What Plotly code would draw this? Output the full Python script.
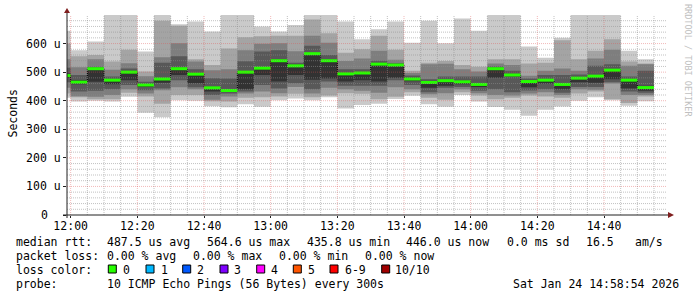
import plotly.graph_objects as go

DAY = "2026-01-24 "
# start times of the 5-minute steps (each step ends 5 minutes later)
times = ["11:55", "12:00", "12:05", "12:10", "12:15", "12:20", "12:25", "12:30", "12:35", "12:40",
         "12:45", "12:50", "12:55", "13:00", "13:05", "13:10", "13:15", "13:20", "13:25", "13:30",
         "13:35", "13:40", "13:45", "13:50", "13:55", "14:00", "14:05", "14:10", "14:15", "14:20",
         "14:25", "14:30", "14:35", "14:40", "14:45", "14:50"]
last_end = "14:55"
x_start = DAY + "11:58:54"
x_end = DAY + "14:58:54"

# sorted ping round-trip times (microseconds), ping1 = fastest, ping10 = slowest
ping1 = [410, 397, 400, 397, 414, 358, 342, 402, 400, 381, 377, 388, 379, 402, 408, 402, 412, 373,
         385, 389, 406, 417, 388, 379, 420, 397, 378, 368, 347, 368, 380, 400, 412, 402, 382, 398]
ping2 = [425, 412, 405, 405, 428, 415, 389, 420, 420, 398, 397, 410, 412, 415, 424, 412, 418, 426,
         424, 405, 414, 430, 410, 403, 430, 418, 405, 410, 418, 415, 410, 425, 432, 405, 392, 415]
ping3 = [445, 416, 414, 420, 440, 425, 437, 447, 440, 403, 415, 425, 432, 426, 448, 425, 445, 440,
         435, 428, 447, 440, 423, 426, 440, 426, 420, 418, 425, 430, 420, 440, 438, 460, 420, 420]
ping4 = [465, 432, 435, 440, 455, 437, 443, 472, 447, 420, 425, 432, 455, 443, 461, 440, 467, 452,
         452, 452, 472, 455, 430, 445, 448, 435, 440, 430, 436, 440, 428, 448, 448, 465, 432, 428]
ping5 = [480, 458, 466, 458, 472, 448, 463, 490, 461, 432, 432, 440, 490, 467, 490, 473, 478, 467,
         472, 467, 480, 468, 445, 452, 458, 448, 480, 485, 447, 460, 440, 465, 463, 475, 443, 435]
ping6 = [495, 472, 510, 474, 500, 458, 478, 513, 494, 447, 440, 502, 517, 543, 526, 566, 543, 495,
         500, 530, 527, 478, 466, 472, 468, 460, 512, 492, 468, 474, 460, 482, 488, 510, 474, 452]
ping7 = [515, 490, 519, 485, 513, 466, 533, 556, 510, 479, 478, 538, 572, 577, 533, 592, 560, 510,
         510, 540, 532, 488, 475, 485, 485, 485, 520, 505, 478, 490, 490, 492, 522, 528, 485, 505]
ping8 = [545, 517, 545, 508, 531, 486, 552, 601, 537, 507, 510, 577, 599, 601, 573, 627, 603, 539,
         548, 575, 543, 497, 528, 529, 510, 502, 530, 525, 487, 505, 513, 505, 548, 578, 522, 528]
ping9 = [600, 556, 560, 537, 578, 502, 680, 662, 545, 525, 583, 622, 626, 627, 627, 684, 636, 568,
         580, 627, 578, 505, 533, 539, 525, 519, 545, 545, 530, 533, 612, 545, 575, 615, 537, 530]
ping10 = [645, 577, 607, 705, 705, 572, 705, 668, 677, 642, 705, 705, 660, 642, 665, 705, 705, 677,
          615, 650, 677, 603, 680, 601, 688, 645, 705, 705, 590, 550, 620, 705, 705, 705, 575, 545]
median = [488, 465, 512, 472, 500, 455, 476, 512, 493, 445, 435.8, 500, 514, 540, 522, 564.6, 540, 494,
          497, 528, 525, 476, 464, 470, 466, 457, 512, 490, 467, 472, 457, 479, 486, 507, 472, 446]

y_ticks = [0, 100, 200, 300, 400, 500, 600]
y_ticktext = ["0", "100 u", "200 u", "300 u", "400 u", "500 u", "600 u"]
x_ticks = ["12:00", "12:20", "12:40", "13:00", "13:20", "13:40", "14:00", "14:20", "14:40"]

loss_labels = ["0", "1", "2", "3", "4", "5", "6-9", "10/10"]
loss_colors = ["#26ff00", "#00b8ff", "#0059ff", "#7e00ff", "#ff00ff", "#ff5500", "#ff0000", "#a10000"]

FONT = "DejaVu Sans Mono"
FS = 11.5
W, H = 697, 297
L, R, T, B = 67, 30, 15, 82
PW, PH = W - L - R, H - T - B


def px(xp):
    return (xp - L) / PW


def py(yp):
    return (T + PH - yp) / PH


xs = [DAY + t for t in times] + [DAY + last_end]


def ext(v):
    return list(v) + [v[-1]]


fig = go.Figure()
pings = [ping1, ping2, ping3, ping4, ping5, ping6, ping7, ping8, ping9, ping10]
band_colors = ["#cacaca", "#a4a4a4", "#7e7e7e", "#585858", "#323232"]
for b in range(5):
    lo, hi = pings[b], pings[9 - b]
    fig.add_trace(go.Scatter(x=xs, y=ext(lo), mode="lines", line=dict(width=0, shape="hv"),
                             hoverinfo="skip", showlegend=False))
    fig.add_trace(go.Scatter(x=xs, y=ext(hi), mode="lines", line=dict(width=0, shape="hv"),
                             fill="tonexty", fillcolor=band_colors[b], hoverinfo="skip", showlegend=False))

# thin dark median step line (visible as connectors)
fig.add_trace(go.Scatter(x=xs, y=ext(median), mode="lines",
                         line=dict(width=1, shape="hv", color="#000000", dash="1px,1px"),
                         hoverinfo="skip", showlegend=False))
# green median segments (loss 0)
gx, gy = [], []
for i, m in enumerate(median):
    gx += [xs[i], xs[i + 1], None]
    gy += [m, m, None]
fig.add_trace(go.Scatter(x=gx, y=gy, mode="lines", line=dict(width=3, color=loss_colors[0]),
                         hoverinfo="skip", showlegend=False))

shapes = []
MINOR = "rgba(143,143,143,0.55)"
MAJOR = "rgba(222,79,79,0.4)"
# vertical grid at every step boundary inside the view
for t in times[1:] + [last_end]:
    major = t in x_ticks
    shapes.append(dict(type="line", xref="x", yref="paper", x0=DAY + t, x1=DAY + t, y0=0, y1=1,
                       line=dict(color=MAJOR if major else MINOR, width=1, dash="1px,1px"), layer="above"))
# horizontal grid every 20 u
for v in range(20, 700, 20):
    major = v in y_ticks
    shapes.append(dict(type="line", xref="paper", yref="y", x0=0, x1=1, y0=v, y1=v,
                       line=dict(color=MAJOR if major else MINOR, width=1, dash="1px,1px"), layer="above"))

AXIS = "#202020"
ARROW = "#801f1f"
shapes.append(dict(type="line", xref="paper", yref="paper", x0=px(67), x1=px(67), y0=py(218), y1=py(12),
                   line=dict(color=AXIS, width=1), layer="above"))
shapes.append(dict(type="line", xref="paper", yref="paper", x0=px(63), x1=px(669), y0=py(215), y1=py(215),
                   line=dict(color=AXIS, width=1), layer="above"))
shapes.append(dict(type="path", xref="paper", yref="paper",
                   path=f"M {px(67)} {py(8)} L {px(64)} {py(13)} L {px(70)} {py(13)} Z",
                   fillcolor=ARROW, line=dict(color=ARROW, width=0), layer="above"))
shapes.append(dict(type="path", xref="paper", yref="paper",
                   path=f"M {px(674)} {py(215)} L {px(668)} {py(212)} L {px(668)} {py(218)} Z",
                   fillcolor=ARROW, line=dict(color=ARROW, width=0), layer="above"))

# loss colour squares
sq_x = [108.3, 146, 182.7, 220, 256.7, 293.3, 330, 381.7]
lab_x = [123.3, 161, 197.3, 234.3, 271.7, 308.3, 345, 395]
for xq, c in zip(sq_x, loss_colors):
    shapes.append(dict(type="rect", xref="paper", yref="paper", x0=px(xq), x1=px(xq + 8),
                       y0=py(273), y1=py(265), fillcolor=c, line=dict(color="#000000", width=1)))

annotations = []


def txt(x, y, s, **kw):
    d = dict(xref="paper", yref="paper", x=px(x - 2.5), y=py(y), text=s, showarrow=False,
             xanchor="left", yanchor="middle", font=dict(family=FONT, size=FS, color="#000000"))
    d.update(kw)
    annotations.append(d)


line1 = [(16, "median rtt:"), (107.3, "487.5 us avg"), (207.3, "564.6 us max"), (307.3, "435.8 us min"),
         (406.7, "446.0 us now"), (507.7, "0.0 ms sd"), (586.7, "16.5"), (635, "am/s")]
line2 = [(16, "packet loss:"), (107.3, "0.00 % avg"), (193.3, "0.00 % max"), (279.3, "0.00 % min"),
         (365, "0.00 % now")]
line4 = [(16, "probe:"), (107.3, "10 ICMP Echo Pings (56 Bytes) every 300s"), (513.3, "Sat Jan 24 14:58:54 2026")]
for x, s in line1:
    txt(x, 241.5, s)
for x, s in line2:
    txt(x, 255.5, s)
txt(16, 269.5, "loss color:")
for x, s in zip(lab_x, loss_labels):
    txt(x, 269.5, s)
for x, s in line4:
    txt(x, 283.5, s)

# zero label of the value axis (placed like rrdtool, a bit left of the other labels)
annotations.append(dict(xref="paper", yref="y", x=px(50), y=y_ticks[0], text=y_ticktext[0], showarrow=False,
                        xanchor="right", yanchor="middle", font=dict(family=FONT, size=FS, color="#000000")))

annotations.append(dict(xref="paper", yref="paper", x=px(12.5), y=py(114), text="Seconds", textangle=-90,
                        showarrow=False, xanchor="center", yanchor="middle",
                        font=dict(family=FONT, size=FS, color="#000000")))
annotations.append(dict(xref="paper", yref="paper", x=px(688), y=py(60), text="RRDTOOL / TOBI OETIKER",
                        textangle=90, showarrow=False, xanchor="center", yanchor="middle",
                        font=dict(family=FONT, size=8.5, color="#c0c0c0")))

fig.update_layout(
    width=W, height=H, margin=dict(l=L, r=R, t=T, b=B),
    paper_bgcolor="#ffffff", plot_bgcolor="#ffffff",
    shapes=shapes, annotations=annotations, showlegend=False,
    font=dict(family=FONT, size=FS, color="#000000"),
    xaxis=dict(type="date", range=[x_start, x_end], tickvals=[DAY + t for t in x_ticks], ticktext=x_ticks,
               showgrid=False, zeroline=False, showline=False, ticks="outside", ticklen=2,
               ticklabelstandoff=-2,
               tickcolor=AXIS, tickfont=dict(family=FONT, size=FS, color="#000000")),
    yaxis=dict(range=[0, 700], tickvals=y_ticks, ticktext=[""] + y_ticktext[1:], showgrid=False,
               zeroline=False, showline=False, ticks="outside", ticklen=3, tickcolor=AXIS,
               tickfont=dict(family=FONT, size=FS, color="#000000")),
)

fig.write_html("out.html")
